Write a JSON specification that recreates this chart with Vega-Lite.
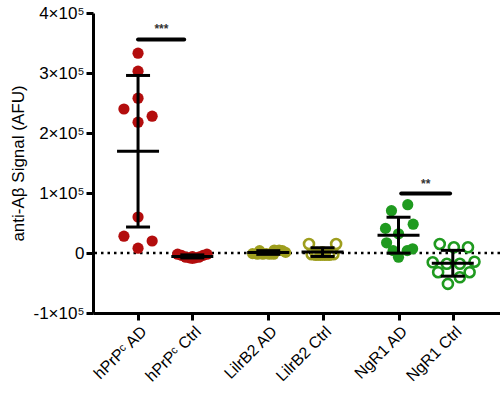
{
  "$schema": "https://vega.github.io/schema/vega-lite/v6.json",
  "width": 407,
  "height": 300,
  "autosize": {"type": "none"},
  "padding": {"left": 93, "top": 13, "right": 0, "bottom": 94},
  "background": "white",
  "config": {
    "view": {"stroke": null},
    "font": "Liberation Sans",
    "axis": {
      "grid": false,
      "domainColor": "black",
      "domainWidth": 3,
      "tickColor": "black",
      "tickWidth": 3,
      "tickSize": 7,
      "labelFont": "Liberation Sans",
      "labelFontSize": 17,
      "labelColor": "black",
      "labelOverlap": false,
      "titleFont": "Liberation Sans",
      "titleFontSize": 17,
      "titleFontWeight": "normal",
      "titleColor": "black"
    }
  },
  "datasets": {
    "pts": [
      {"g": "hPrP AD", "prot": "hPrP", "pos": 0, "x": 0, "y": 333000, "open": false},
      {"g": "hPrP AD", "prot": "hPrP", "pos": 0, "x": 0, "y": 303000, "open": false},
      {"g": "hPrP AD", "prot": "hPrP", "pos": 0, "x": 0, "y": 258000, "open": false},
      {"g": "hPrP AD", "prot": "hPrP", "pos": 0, "x": -0.26, "y": 240000, "open": false},
      {"g": "hPrP AD", "prot": "hPrP", "pos": 0, "x": 0.26, "y": 228000, "open": false},
      {"g": "hPrP AD", "prot": "hPrP", "pos": 0, "x": 0, "y": 218000, "open": false},
      {"g": "hPrP AD", "prot": "hPrP", "pos": 0, "x": 0, "y": 60000, "open": false},
      {"g": "hPrP AD", "prot": "hPrP", "pos": 0, "x": -0.26, "y": 28000, "open": false},
      {"g": "hPrP AD", "prot": "hPrP", "pos": 0, "x": 0.26, "y": 20000, "open": false},
      {"g": "hPrP AD", "prot": "hPrP", "pos": 0, "x": 0, "y": 8000, "open": false},
      {"g": "hPrP Ctrl", "prot": "hPrP", "pos": 1, "x": 0.73, "y": -2000, "open": false},
      {"g": "hPrP Ctrl", "prot": "hPrP", "pos": 1, "x": 0.8, "y": -4000, "open": false},
      {"g": "hPrP Ctrl", "prot": "hPrP", "pos": 1, "x": 0.88, "y": -7000, "open": false},
      {"g": "hPrP Ctrl", "prot": "hPrP", "pos": 1, "x": 0.95, "y": -8000, "open": false},
      {"g": "hPrP Ctrl", "prot": "hPrP", "pos": 1, "x": 1.0, "y": -9000, "open": false},
      {"g": "hPrP Ctrl", "prot": "hPrP", "pos": 1, "x": 1.05, "y": -8000, "open": false},
      {"g": "hPrP Ctrl", "prot": "hPrP", "pos": 1, "x": 1.12, "y": -7000, "open": false},
      {"g": "hPrP Ctrl", "prot": "hPrP", "pos": 1, "x": 1.2, "y": -4000, "open": false},
      {"g": "hPrP Ctrl", "prot": "hPrP", "pos": 1, "x": 1.27, "y": -2000, "open": false},
      {"g": "hPrP Ctrl", "prot": "hPrP", "pos": 1, "x": 1.0, "y": -6000, "open": false},
      {"g": "LilrB2 AD", "prot": "LilrB2", "pos": 2.4, "x": 2.11, "y": -1000, "open": false},
      {"g": "LilrB2 AD", "prot": "LilrB2", "pos": 2.4, "x": 2.2, "y": -2000, "open": false},
      {"g": "LilrB2 AD", "prot": "LilrB2", "pos": 2.4, "x": 2.24, "y": 4000, "open": false},
      {"g": "LilrB2 AD", "prot": "LilrB2", "pos": 2.4, "x": 2.3, "y": -2000, "open": false},
      {"g": "LilrB2 AD", "prot": "LilrB2", "pos": 2.4, "x": 2.36, "y": -1000, "open": false},
      {"g": "LilrB2 AD", "prot": "LilrB2", "pos": 2.4, "x": 2.42, "y": -2000, "open": false},
      {"g": "LilrB2 AD", "prot": "LilrB2", "pos": 2.4, "x": 2.51, "y": 5000, "open": false},
      {"g": "LilrB2 AD", "prot": "LilrB2", "pos": 2.4, "x": 2.6, "y": 5000, "open": false},
      {"g": "LilrB2 AD", "prot": "LilrB2", "pos": 2.4, "x": 2.66, "y": 4000, "open": false},
      {"g": "LilrB2 AD", "prot": "LilrB2", "pos": 2.4, "x": 2.72, "y": 1000, "open": false},
      {"g": "LilrB2 AD", "prot": "LilrB2", "pos": 2.4, "x": 2.5, "y": -2000, "open": false},
      {"g": "LilrB2 Ctrl", "prot": "LilrB2", "pos": 3.4, "x": 3.15, "y": 15000, "open": true},
      {"g": "LilrB2 Ctrl", "prot": "LilrB2", "pos": 3.4, "x": 3.65, "y": 15000, "open": true},
      {"g": "LilrB2 Ctrl", "prot": "LilrB2", "pos": 3.4, "x": 3.2, "y": -2000, "open": true},
      {"g": "LilrB2 Ctrl", "prot": "LilrB2", "pos": 3.4, "x": 3.28, "y": -3000, "open": true},
      {"g": "LilrB2 Ctrl", "prot": "LilrB2", "pos": 3.4, "x": 3.36, "y": -3000, "open": true},
      {"g": "LilrB2 Ctrl", "prot": "LilrB2", "pos": 3.4, "x": 3.44, "y": -3000, "open": true},
      {"g": "LilrB2 Ctrl", "prot": "LilrB2", "pos": 3.4, "x": 3.52, "y": -3000, "open": true},
      {"g": "LilrB2 Ctrl", "prot": "LilrB2", "pos": 3.4, "x": 3.6, "y": -2000, "open": true},
      {"g": "LilrB2 Ctrl", "prot": "LilrB2", "pos": 3.4, "x": 3.4, "y": 1000, "open": true},
      {"g": "LilrB2 Ctrl", "prot": "LilrB2", "pos": 3.4, "x": 3.3, "y": 0, "open": true},
      {"g": "NgR1 AD", "prot": "NgR1", "pos": 4.8, "x": 4.67, "y": 70500, "open": false},
      {"g": "NgR1 AD", "prot": "NgR1", "pos": 4.8, "x": 4.97, "y": 80500, "open": false},
      {"g": "NgR1 AD", "prot": "NgR1", "pos": 4.8, "x": 4.56, "y": 41000, "open": false},
      {"g": "NgR1 AD", "prot": "NgR1", "pos": 4.8, "x": 5.07, "y": 48000, "open": false},
      {"g": "NgR1 AD", "prot": "NgR1", "pos": 4.8, "x": 4.8, "y": 32000, "open": false},
      {"g": "NgR1 AD", "prot": "NgR1", "pos": 4.8, "x": 4.58, "y": 17000, "open": false},
      {"g": "NgR1 AD", "prot": "NgR1", "pos": 4.8, "x": 4.7, "y": 4000, "open": false},
      {"g": "NgR1 AD", "prot": "NgR1", "pos": 4.8, "x": 4.8, "y": -7000, "open": false},
      {"g": "NgR1 AD", "prot": "NgR1", "pos": 4.8, "x": 4.96, "y": 4000, "open": false},
      {"g": "NgR1 AD", "prot": "NgR1", "pos": 4.8, "x": 5.06, "y": 7000, "open": false},
      {"g": "NgR1 Ctrl", "prot": "NgR1", "pos": 5.8, "x": 5.56, "y": 15000, "open": true},
      {"g": "NgR1 Ctrl", "prot": "NgR1", "pos": 5.8, "x": 5.82, "y": 9500, "open": true},
      {"g": "NgR1 Ctrl", "prot": "NgR1", "pos": 5.8, "x": 6.08, "y": 9500, "open": true},
      {"g": "NgR1 Ctrl", "prot": "NgR1", "pos": 5.8, "x": 5.43, "y": -15500, "open": true},
      {"g": "NgR1 Ctrl", "prot": "NgR1", "pos": 5.8, "x": 5.69, "y": -18000, "open": true},
      {"g": "NgR1 Ctrl", "prot": "NgR1", "pos": 5.8, "x": 5.93, "y": -18000, "open": true},
      {"g": "NgR1 Ctrl", "prot": "NgR1", "pos": 5.8, "x": 6.2, "y": -14500, "open": true},
      {"g": "NgR1 Ctrl", "prot": "NgR1", "pos": 5.8, "x": 5.53, "y": -32000, "open": true},
      {"g": "NgR1 Ctrl", "prot": "NgR1", "pos": 5.8, "x": 6.11, "y": -32000, "open": true},
      {"g": "NgR1 Ctrl", "prot": "NgR1", "pos": 5.8, "x": 5.93, "y": -40500, "open": true},
      {"g": "NgR1 Ctrl", "prot": "NgR1", "pos": 5.8, "x": 5.71, "y": -51500, "open": true}
    ],
    "sig": [
      {"x1": 0.0, "x2": 0.85, "y": 356000, "xm": 0.43, "ty": 367000, "label": "***"},
      {"x1": 4.85, "x2": 5.75, "y": 99000, "xm": 5.3, "ty": 108000, "label": "**"}
    ]
  },
  "layer": [
    {
      "data": {"values": [{}]},
      "mark": {"type": "rule", "color": "black", "strokeWidth": 2.5, "strokeDash": [2.5, 4]},
      "encoding": {
        "y": {"datum": 0, "type": "quantitative", "scale": {"domain": [-100000, 400000], "nice": false, "zero": false}, "title": "anti-Aβ Signal  (AFU)"}
      }
    },
    {
      "data": {"name": "pts"},
      "transform": [{"filter": "!datum.open"}],
      "mark": {"type": "point", "filled": true, "size": 125, "opacity": 1},
      "encoding": {
        "x": {"field": "x", "type": "quantitative", "title": null,
              "scale": {"domain": [-0.83, 6.67], "nice": false, "zero": false},
              "axis": {"values": [0, 1, 2.4, 3.4, 4.8, 5.8], "labelAngle": -45, "labelAlign": "right", "labelBaseline": "top", "labelPadding": 3, "labelFontSize": 16,
                       "labelExpr": "datum.value == 0 ? 'hPrPᶜ AD' : datum.value == 1 ? 'hPrPᶜ Ctrl' : datum.value == 2.4 ? 'LilrB2 AD' : datum.value == 3.4 ? 'LilrB2 Ctrl' : datum.value == 4.8 ? 'NgR1 AD' : 'NgR1 Ctrl'"}},
        "y": {"field": "y", "type": "quantitative", "title": "anti-Aβ Signal  (AFU)",
              "axis": {"values": [-100000, 0, 100000, 200000, 300000, 400000], "labelPadding": 2, "titlePadding": 6,
                       "labelExpr": "datum.value == 0 ? '0' : (datum.value / 100000) + '×10⁵'"}},
        "color": {"field": "prot", "type": "nominal", "legend": null,
                  "scale": {"domain": ["hPrP", "LilrB2", "NgR1"], "range": ["#b30d0d", "#9e9e1e", "#1f9a1f"]}}
      }
    },
    {
      "data": {"name": "pts"},
      "transform": [{"filter": "datum.open"}],
      "mark": {"type": "point", "filled": false, "size": 100, "strokeWidth": 2.6, "opacity": 1},
      "encoding": {
        "x": {"field": "x", "type": "quantitative", "title": null},
        "y": {"field": "y", "type": "quantitative", "title": "anti-Aβ Signal  (AFU)"},
        "color": {"field": "prot", "type": "nominal", "legend": null}
      }
    },
    {
      "data": {"name": "pts"},
      "mark": {"type": "errorbar", "extent": "stdev", "orient": "vertical",
               "ticks": {"size": 24, "thickness": 3, "color": "black", "opacity": 1},
               "rule": {"strokeWidth": 3, "color": "black"}},
      "encoding": {
        "x": {"field": "pos", "type": "quantitative", "title": null},
        "y": {"field": "y", "type": "quantitative", "title": "anti-Aβ Signal  (AFU)"}
      }
    },
    {
      "data": {"name": "pts"},
      "mark": {"type": "tick", "orient": "horizontal", "size": 42, "thickness": 3, "color": "black", "opacity": 1},
      "encoding": {
        "x": {"field": "pos", "type": "quantitative", "title": null},
        "y": {"aggregate": "mean", "field": "y", "type": "quantitative", "title": "anti-Aβ Signal  (AFU)"}
      }
    },
    {
      "data": {"name": "sig"},
      "mark": {"type": "rule", "color": "black", "strokeWidth": 4, "strokeCap": "round"},
      "encoding": {
        "x": {"field": "x1", "type": "quantitative", "title": null},
        "x2": {"field": "x2"},
        "y": {"field": "y", "type": "quantitative", "title": "anti-Aβ Signal  (AFU)"}
      }
    },
    {
      "data": {"name": "sig"},
      "mark": {"type": "text", "fontSize": 12, "fontWeight": "bold", "color": "#333333", "baseline": "alphabetic", "align": "center"},
      "encoding": {
        "x": {"field": "xm", "type": "quantitative", "title": null},
        "y": {"field": "ty", "type": "quantitative", "title": "anti-Aβ Signal  (AFU)"},
        "text": {"field": "label"}
      }
    }
  ]
}
